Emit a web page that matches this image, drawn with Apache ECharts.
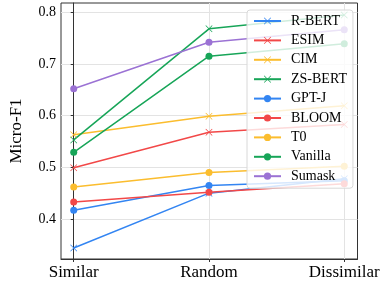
<!DOCTYPE html>
<html><head><meta charset="utf-8">
<script src="https://cdn.jsdelivr.net/npm/echarts@6/dist/echarts.min.js"></script>
<style>html,body{margin:0;padding:0;background:#fff}#c{width:382px;height:282px}</style>
</head><body><div id="c"></div>
<script>
const categories = ['Similar', 'Random', 'Dissimilar'];
const yTicks = [0.4, 0.5, 0.6, 0.7, 0.8];
const names = ['R-BERT', 'ESIM', 'CIM', 'ZS-BERT', 'GPT-J', 'BLOOM', 'T0', 'Vanilla', 'Sumask'];
const rbert = [0.344, 0.450, 0.478];
const esim = [0.499, 0.568, 0.583];
const cim = [0.563, 0.599, 0.619];
const zsbert = [0.553, 0.768, 0.795];
const gptj = [0.417, 0.465, 0.474];
const bloom = [0.433, 0.452, 0.468];
const t0 = [0.462, 0.490, 0.502];
const vanilla = [0.529, 0.715, 0.739];
const sumask = [0.652, 0.742, 0.766];

const values = [rbert, esim, cim, zsbert, gptj, bloom, t0, vanilla, sumask];
const colors = ['#3385f2', '#f24848', '#fbbd2e', '#17a558', '#3385f2', '#f24848', '#fbbd2e', '#17a558', '#9b72d4'];
const symbols = ['x', 'x', 'x', 'x', 'circle', 'circle', 'circle', 'circle', 'circle'];
const FONT = "'Liberation Serif', 'Times New Roman', serif";
const X_SYMBOL = 'path://M0.7,0L5,4.3L9.3,0L10,0.7L5.7,5L10,9.3L9.3,10L5,5.7L0.7,10L0,9.3L4.3,5L0,0.7Z';

const series = names.map((n, i) => ({
  name: n,
  type: 'line',
  data: values[i].map((v, k) => [k, v]),
  symbol: symbols[i] === 'x' ? X_SYMBOL : 'circle',
  symbolSize: 7,
  lineStyle: { width: 1.5, color: colors[i] },
  itemStyle: { color: colors[i] },
  emphasis: { disabled: true },
  animation: false
}));

const chart = echarts.init(document.getElementById('c'), null, { renderer: 'canvas' });
chart.setOption({
  animation: false,
  textStyle: { fontFamily: FONT },
  grid: { left: 46, right: 24, top: 3, bottom: 23, show: true, borderColor: '#333', borderWidth: 1, containLabel: false },
  xAxis: {
    type: 'value', min: -0.094, max: 2.098,
    axisLine: { show: true, lineStyle: { color: '#333' } },
    axisTick: { show: true, customValues: [0, 1, 2], length: 3, lineStyle: { color: '#333' } },
    axisLabel: { customValues: [0, 1, 2], formatter: v => categories[Math.round(v)], color: '#000', fontSize: 17, fontFamily: FONT, margin: 5 },
    splitLine: { show: true, lineStyle: { color: '#e3e3e3', width: 1 } }
  },
  yAxis: {
    type: 'value', min: 0.3226, max: 0.818,
    name: 'Micro-F1', nameLocation: 'middle', nameGap: 36,
    nameTextStyle: { fontSize: 17, color: '#000', fontFamily: FONT },
    axisLine: { show: true, lineStyle: { color: '#333' } },
    axisTick: { show: true, customValues: yTicks, length: 3, lineStyle: { color: '#333' } },
    axisLabel: { customValues: yTicks, formatter: v => v.toFixed(1), color: '#000', fontSize: 14, fontFamily: FONT, margin: 5 },
    splitLine: { show: true, lineStyle: { color: '#e3e3e3', width: 1 } }
  },
  legend: {
    orient: 'vertical', left: 247, top: 10,
    padding: [4, 6, 5, 6],
    itemWidth: 27, itemHeight: 9, itemGap: 5.4,
    backgroundColor: 'rgba(255,255,255,0.8)',
    borderColor: '#d8d8d8', borderWidth: 1, borderRadius: 3,
    textStyle: { fontSize: 14, lineHeight: 14, height: 14, color: '#000', fontFamily: FONT, padding: [0, 0, 0, 5] },
    data: names
  },
  series: series
});
</script></body></html>
